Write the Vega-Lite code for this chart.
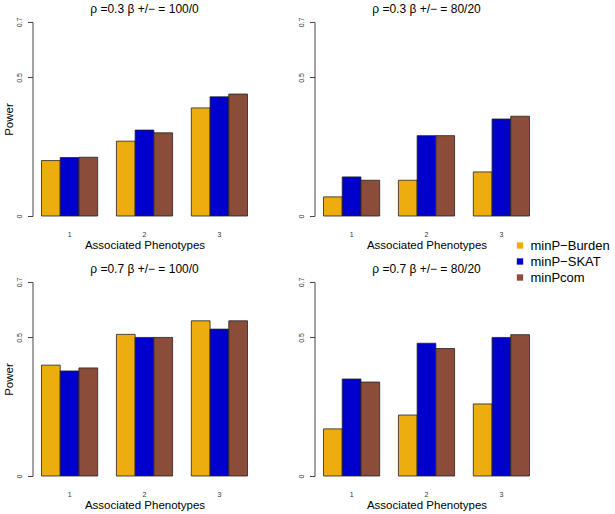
{
  "$schema": "https://vega.github.io/schema/vega-lite/v6.json",
  "padding": {"left": 2.5, "top": 3, "right": 0, "bottom": 0},
  "background": "white",
  "config": {
    "view": {"stroke": null},
    "font": "Liberation Sans",
    "title": {"fontSize": 12, "fontWeight": "normal", "color": "black", "offset": 1, "font": "Liberation Sans"},
    "axis": {"labelFont": "Liberation Sans", "titleFont": "Liberation Sans", "titleFontWeight": "normal", "titleColor": "black", "labelColor": "#333"},
    "concat": {"spacing": 40}
  },
  "data": {"values": [
    {"panel": "A", "pheno": "1", "method": "minP−Burden", "power": 0.20},
    {"panel": "A", "pheno": "1", "method": "minP−SKAT", "power": 0.211},
    {"panel": "A", "pheno": "1", "method": "minPcom", "power": 0.212},
    {"panel": "A", "pheno": "2", "method": "minP−Burden", "power": 0.27},
    {"panel": "A", "pheno": "2", "method": "minP−SKAT", "power": 0.31},
    {"panel": "A", "pheno": "2", "method": "minPcom", "power": 0.30},
    {"panel": "A", "pheno": "3", "method": "minP−Burden", "power": 0.39},
    {"panel": "A", "pheno": "3", "method": "minP−SKAT", "power": 0.43},
    {"panel": "A", "pheno": "3", "method": "minPcom", "power": 0.44},
    {"panel": "B", "pheno": "1", "method": "minP−Burden", "power": 0.069},
    {"panel": "B", "pheno": "1", "method": "minP−SKAT", "power": 0.141},
    {"panel": "B", "pheno": "1", "method": "minPcom", "power": 0.129},
    {"panel": "B", "pheno": "2", "method": "minP−Burden", "power": 0.129},
    {"panel": "B", "pheno": "2", "method": "minP−SKAT", "power": 0.29},
    {"panel": "B", "pheno": "2", "method": "minPcom", "power": 0.29},
    {"panel": "B", "pheno": "3", "method": "minP−Burden", "power": 0.159},
    {"panel": "B", "pheno": "3", "method": "minP−SKAT", "power": 0.35},
    {"panel": "B", "pheno": "3", "method": "minPcom", "power": 0.36},
    {"panel": "C", "pheno": "1", "method": "minP−Burden", "power": 0.40},
    {"panel": "C", "pheno": "1", "method": "minP−SKAT", "power": 0.379},
    {"panel": "C", "pheno": "1", "method": "minPcom", "power": 0.39},
    {"panel": "C", "pheno": "2", "method": "minP−Burden", "power": 0.511},
    {"panel": "C", "pheno": "2", "method": "minP−SKAT", "power": 0.50},
    {"panel": "C", "pheno": "2", "method": "minPcom", "power": 0.50},
    {"panel": "C", "pheno": "3", "method": "minP−Burden", "power": 0.56},
    {"panel": "C", "pheno": "3", "method": "minP−SKAT", "power": 0.53},
    {"panel": "C", "pheno": "3", "method": "minPcom", "power": 0.56},
    {"panel": "D", "pheno": "1", "method": "minP−Burden", "power": 0.17},
    {"panel": "D", "pheno": "1", "method": "minP−SKAT", "power": 0.35},
    {"panel": "D", "pheno": "1", "method": "minPcom", "power": 0.339},
    {"panel": "D", "pheno": "2", "method": "minP−Burden", "power": 0.22},
    {"panel": "D", "pheno": "2", "method": "minP−SKAT", "power": 0.479},
    {"panel": "D", "pheno": "2", "method": "minPcom", "power": 0.46},
    {"panel": "D", "pheno": "3", "method": "minP−Burden", "power": 0.26},
    {"panel": "D", "pheno": "3", "method": "minP−SKAT", "power": 0.50},
    {"panel": "D", "pheno": "3", "method": "minPcom", "power": 0.51}
  ]},
  "spacing": 12,
  "vconcat": [
    {
      "hconcat": [
        {
          "title": "ρ =0.3 β +/− = 100/0",
          "width": 224, "height": 194,
          "transform": [{"filter": "datum.panel === 'A'"}],
          "mark": {"type": "bar", "stroke": "#222", "strokeWidth": 0.8},
          "encoding": {
            "x": {"field": "pheno", "type": "nominal", "scale": {"paddingInner": 0.25, "paddingOuter": 0.12}, "axis": {"title": "Associated Phenotypes", "titleFontSize": 11.5, "labelAngle": 0, "labelFontSize": 7, "labelPadding": 14.5, "ticks": false, "domain": false, "titlePadding": 2}},
            "xOffset": {"field": "method", "type": "nominal", "sort": ["minP−Burden", "minP−SKAT", "minPcom"], "scale": {"paddingInner": 0, "paddingOuter": 0}},
            "y": {"field": "power", "type": "quantitative", "scale": {"domain": [0, 0.7], "nice": false}, "axis": {"title": "Power", "titleFontSize": 11.5, "titlePadding": 1, "values": [0, 0.5, 0.7], "grid": false, "labelAngle": 270, "labelAlign": "center", "labelBaseline": "bottom", "labelFontSize": 7, "labelPadding": 5, "tickSize": 5, "domainColor": "#444", "tickColor": "#444", "labelExpr": "datum.value === 0 ? '0' : format(datum.value, '.1f')"}},
            "color": {"field": "method", "type": "nominal", "sort": ["minP−Burden", "minP−SKAT", "minPcom"], "scale": {"domain": ["minP−Burden", "minP−SKAT", "minPcom"], "range": ["#EEAD0E", "#0000CD", "#8B4C39"]}, "legend": {"title": null, "orient": "none", "legendX": 481, "legendY": 217, "symbolType": "square", "symbolSize": 40, "symbolStrokeWidth": 0, "labelFontSize": 13, "labelFont": "Liberation Sans", "rowPadding": 2, "labelColor": "black"}}
          }
        },
        {
          "title": "ρ =0.3 β +/− = 80/20",
          "width": 224, "height": 194,
          "transform": [{"filter": "datum.panel === 'B'"}],
          "mark": {"type": "bar", "stroke": "#222", "strokeWidth": 0.8},
          "encoding": {
            "x": {"field": "pheno", "type": "nominal", "scale": {"paddingInner": 0.25, "paddingOuter": 0.12}, "axis": {"title": "Associated Phenotypes", "titleFontSize": 11.5, "labelAngle": 0, "labelFontSize": 7, "labelPadding": 14.5, "ticks": false, "domain": false, "titlePadding": 2}},
            "xOffset": {"field": "method", "type": "nominal", "sort": ["minP−Burden", "minP−SKAT", "minPcom"], "scale": {"paddingInner": 0, "paddingOuter": 0}},
            "y": {"field": "power", "type": "quantitative", "scale": {"domain": [0, 0.7], "nice": false}, "axis": {"title": null, "values": [0, 0.5, 0.7], "grid": false, "labelAngle": 270, "labelAlign": "center", "labelBaseline": "bottom", "labelFontSize": 7, "labelPadding": 5, "tickSize": 5, "domainColor": "#444", "tickColor": "#444", "labelExpr": "datum.value === 0 ? '0' : format(datum.value, '.1f')"}},
            "color": {"field": "method", "type": "nominal", "sort": ["minP−Burden", "minP−SKAT", "minPcom"], "scale": {"domain": ["minP−Burden", "minP−SKAT", "minPcom"], "range": ["#EEAD0E", "#0000CD", "#8B4C39"]}, "legend": {"title": null, "orient": "none", "legendX": 481, "legendY": 217, "symbolType": "square", "symbolSize": 40, "symbolStrokeWidth": 0, "labelFontSize": 13, "labelFont": "Liberation Sans", "rowPadding": 2, "labelColor": "black"}}
          }
        }
      ]
    },
    {
      "hconcat": [
        {
          "title": "ρ =0.7 β +/− = 100/0",
          "width": 224, "height": 194,
          "transform": [{"filter": "datum.panel === 'C'"}],
          "mark": {"type": "bar", "stroke": "#222", "strokeWidth": 0.8},
          "encoding": {
            "x": {"field": "pheno", "type": "nominal", "scale": {"paddingInner": 0.25, "paddingOuter": 0.12}, "axis": {"title": "Associated Phenotypes", "titleFontSize": 11.5, "labelAngle": 0, "labelFontSize": 7, "labelPadding": 14.5, "ticks": false, "domain": false, "titlePadding": 2}},
            "xOffset": {"field": "method", "type": "nominal", "sort": ["minP−Burden", "minP−SKAT", "minPcom"], "scale": {"paddingInner": 0, "paddingOuter": 0}},
            "y": {"field": "power", "type": "quantitative", "scale": {"domain": [0, 0.7], "nice": false}, "axis": {"title": "Power", "titleFontSize": 11.5, "titlePadding": 1, "values": [0, 0.5, 0.7], "grid": false, "labelAngle": 270, "labelAlign": "center", "labelBaseline": "bottom", "labelFontSize": 7, "labelPadding": 5, "tickSize": 5, "domainColor": "#444", "tickColor": "#444", "labelExpr": "datum.value === 0 ? '0' : format(datum.value, '.1f')"}},
            "color": {"field": "method", "type": "nominal", "sort": ["minP−Burden", "minP−SKAT", "minPcom"], "scale": {"domain": ["minP−Burden", "minP−SKAT", "minPcom"], "range": ["#EEAD0E", "#0000CD", "#8B4C39"]}, "legend": {"title": null, "orient": "none", "legendX": 481, "legendY": 217, "symbolType": "square", "symbolSize": 40, "symbolStrokeWidth": 0, "labelFontSize": 13, "labelFont": "Liberation Sans", "rowPadding": 2, "labelColor": "black"}}
          }
        },
        {
          "title": "ρ =0.7 β +/− = 80/20",
          "width": 224, "height": 194,
          "transform": [{"filter": "datum.panel === 'D'"}],
          "mark": {"type": "bar", "stroke": "#222", "strokeWidth": 0.8},
          "encoding": {
            "x": {"field": "pheno", "type": "nominal", "scale": {"paddingInner": 0.25, "paddingOuter": 0.12}, "axis": {"title": "Associated Phenotypes", "titleFontSize": 11.5, "labelAngle": 0, "labelFontSize": 7, "labelPadding": 14.5, "ticks": false, "domain": false, "titlePadding": 2}},
            "xOffset": {"field": "method", "type": "nominal", "sort": ["minP−Burden", "minP−SKAT", "minPcom"], "scale": {"paddingInner": 0, "paddingOuter": 0}},
            "y": {"field": "power", "type": "quantitative", "scale": {"domain": [0, 0.7], "nice": false}, "axis": {"title": null, "values": [0, 0.5, 0.7], "grid": false, "labelAngle": 270, "labelAlign": "center", "labelBaseline": "bottom", "labelFontSize": 7, "labelPadding": 5, "tickSize": 5, "domainColor": "#444", "tickColor": "#444", "labelExpr": "datum.value === 0 ? '0' : format(datum.value, '.1f')"}},
            "color": {"field": "method", "type": "nominal", "sort": ["minP−Burden", "minP−SKAT", "minPcom"], "scale": {"domain": ["minP−Burden", "minP−SKAT", "minPcom"], "range": ["#EEAD0E", "#0000CD", "#8B4C39"]}, "legend": {"title": null, "orient": "none", "legendX": 481, "legendY": 217, "symbolType": "square", "symbolSize": 40, "symbolStrokeWidth": 0, "labelFontSize": 13, "labelFont": "Liberation Sans", "rowPadding": 2, "labelColor": "black"}}
          }
        }
      ]
    }
  ]
}
